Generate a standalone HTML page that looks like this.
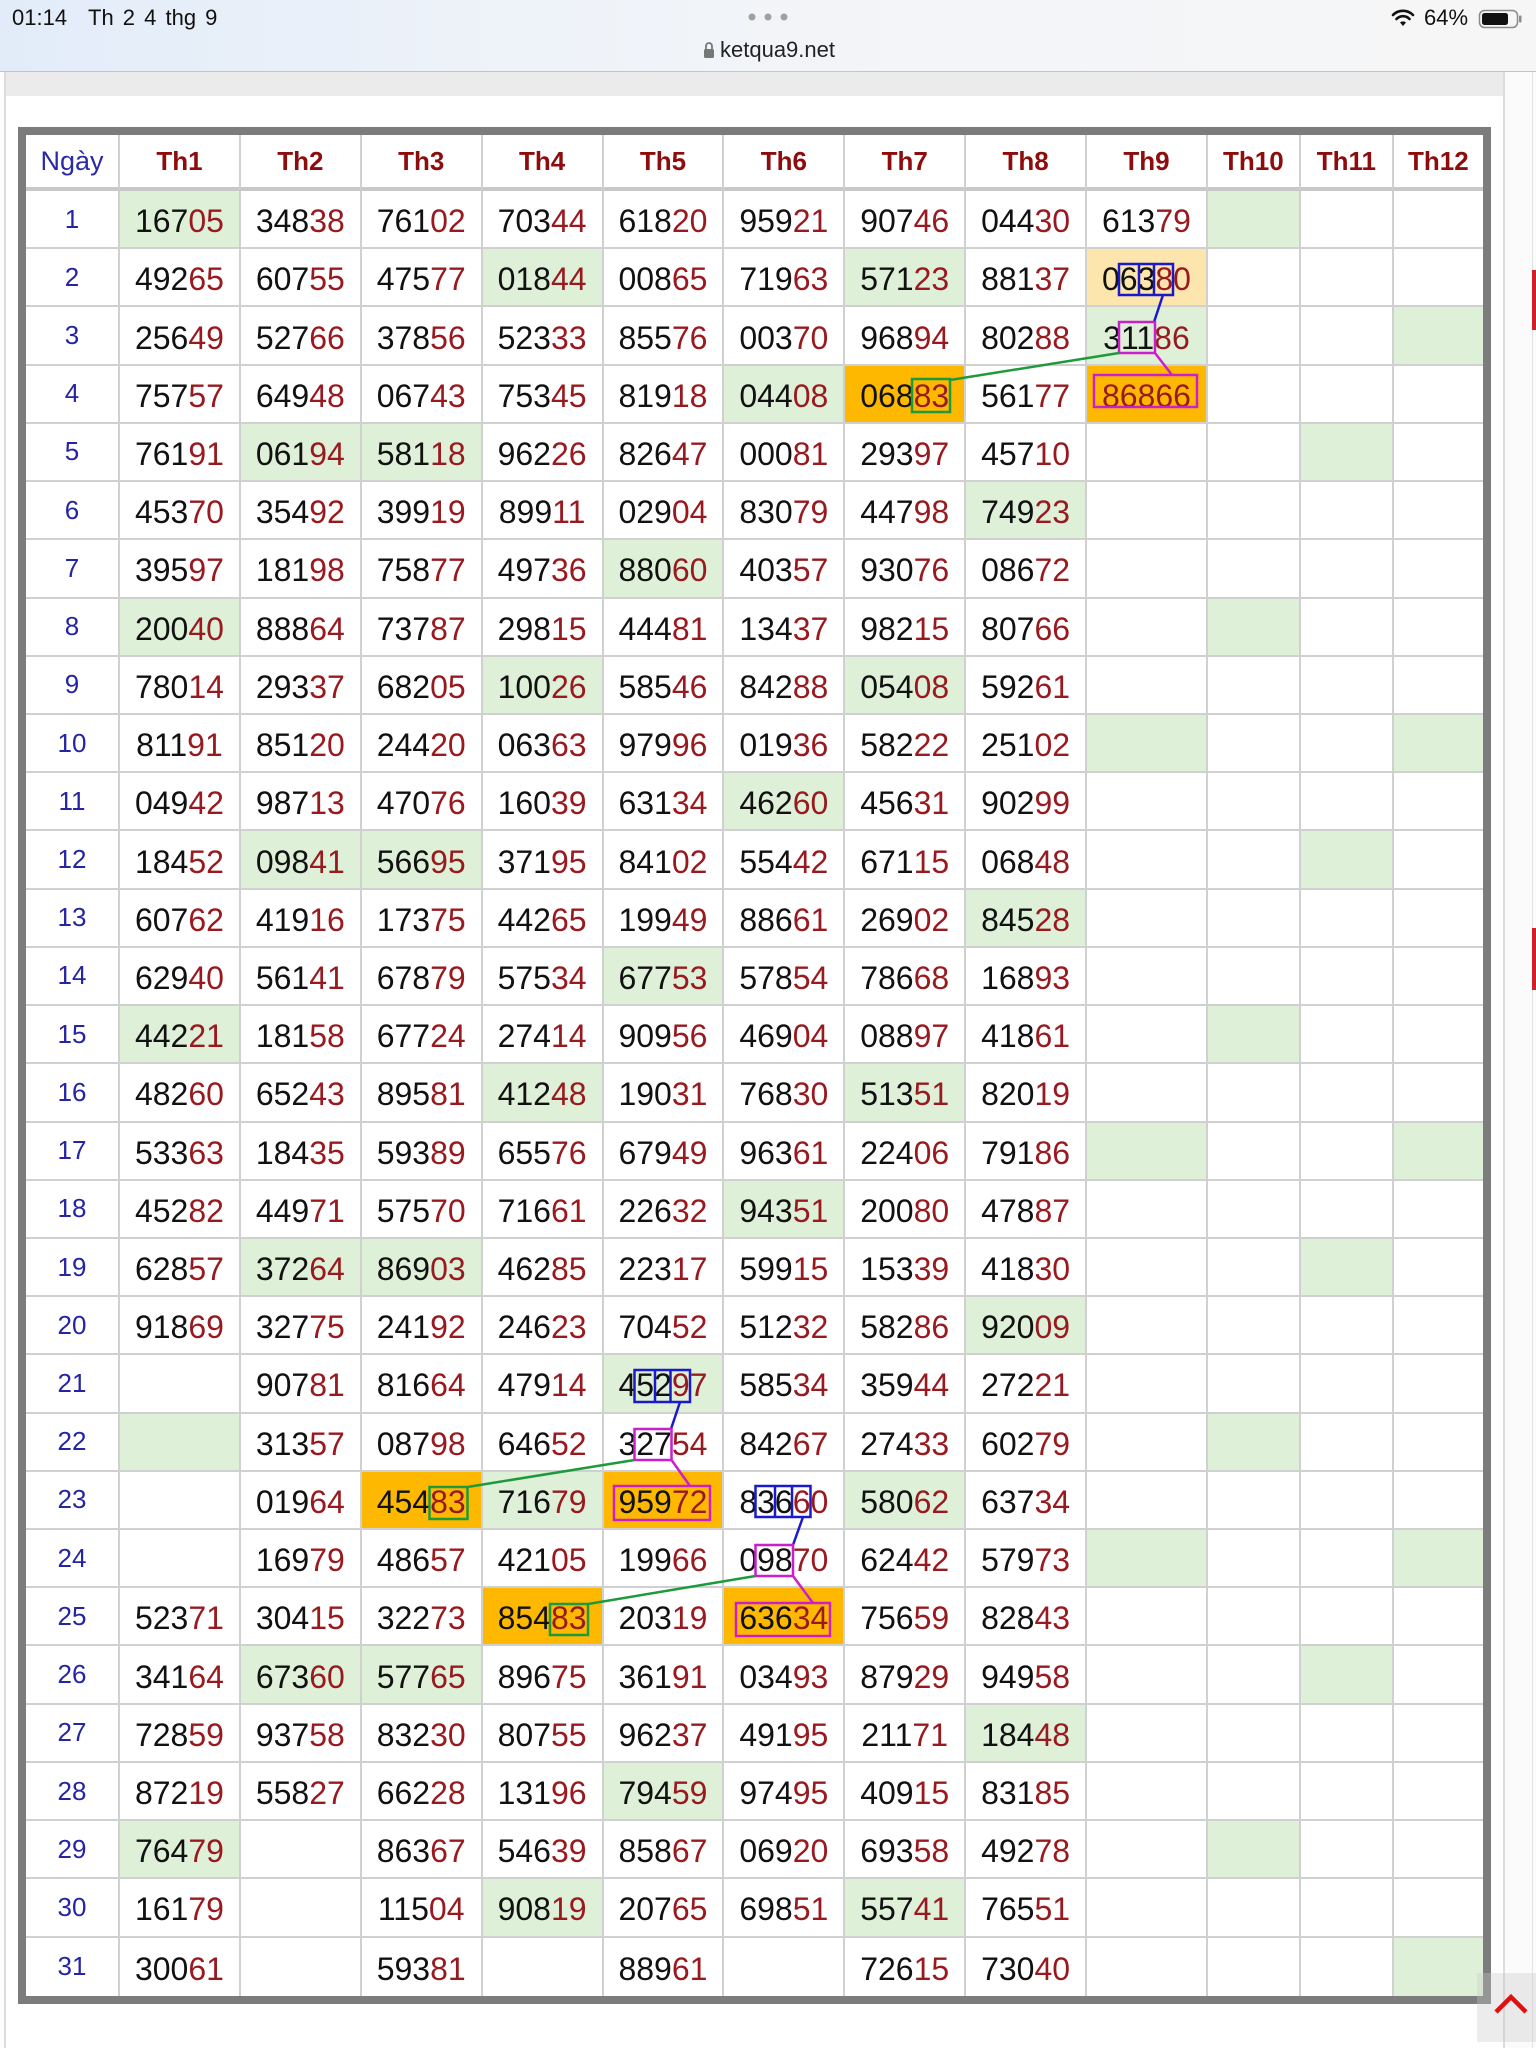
<!DOCTYPE html>
<html><head><meta charset="utf-8">
<style>
html,body{margin:0;padding:0}
body{width:1536px;height:2048px;position:relative;overflow:hidden;background:#fff;font-family:"Liberation Sans",Arial,sans-serif}
#sb{position:absolute;left:0;top:0;width:1536px;height:71px;background:linear-gradient(90deg,#e2ecf9 0%,#edf2f9 30%,#f4f5f8 60%,#f6f6f7 100%);border-bottom:1px solid #c4c4c4}
.st{position:absolute;font-size:22px;line-height:22px;color:#111;white-space:nowrap}
#band{position:absolute;left:5px;top:72px;width:1500px;height:24px;background:#ebebeb}
.vl{position:absolute;top:72px;height:1976px;width:2px;background:#dcdcdc}
#t{position:absolute;left:18px;top:127px;width:1457px;height:1861px;border:8px solid #7c7c7c;display:grid;grid-template-columns:92px repeat(9,120.889px) 93px 93px 91px;grid-template-rows:56px repeat(31,58.226px);background:#fff}
#t>i{font-style:normal;box-sizing:border-box;border-left:2px solid #d0d0d0;border-bottom:2px solid #d0d0d0;display:flex;align-items:center;justify-content:center;padding-top:5px;font-size:32px;color:#111;white-space:nowrap;overflow:visible}
#t>i:nth-child(13n+1){border-left:0;font-size:26px;color:#2424a4;padding-top:0}
#t>i:nth-last-child(-n+13){border-bottom:0}
#t>i.h{border-bottom:4px solid #c8c8c8;font-weight:bold;font-size:26px;color:#8e0c0c;padding-top:0}
#t>i.h:first-child{font-weight:normal;font-size:27px;color:#2a2aa6}
#t b{font-weight:normal;color:#981a1f}
#t .g{background:#dff0d8}
#t .o{background:#ffb800}
#t .y{background:#fde6ad}
</style></head><body>
<div id="sb"></div>
<div class="st" style="left:12px;top:7px">01:14</div>
<div class="st" style="left:88px;top:7px;word-spacing:3px">Th 2 4 thg 9</div>
<div class="st" style="left:720px;top:39px;color:#222">ketqua9.net</div>
<div class="st" style="left:1424px;top:7px">64%</div>
<svg style="position:absolute;left:0;top:0" width="1536" height="72">
<circle cx="752" cy="17" r="3.5" fill="#a0a0a0"/><circle cx="768" cy="17" r="3.5" fill="#a0a0a0"/><circle cx="784" cy="17" r="3.5" fill="#a0a0a0"/>
<rect x="704" y="49" width="10" height="9" rx="1.5" fill="#777"/>
<path d="M706 49v-3a3 3 0 0 1 6 0v3" fill="none" stroke="#777" stroke-width="1.8"/>
<g fill="none" stroke="#111" stroke-width="2.6" stroke-linecap="round">
<path d="M1393 15a14 14 0 0 1 20 0"/><path d="M1396.5 19a9 9 0 0 1 13 0"/>
</g>
<path d="M1400 22.5a4.5 4.5 0 0 1 6 0L1403 26z" fill="#111"/>
<rect x="1479.5" y="10.5" width="38" height="17" rx="5" fill="none" stroke="#8a8a8a" stroke-width="1.5"/>
<rect x="1482" y="13" width="26" height="12" rx="2.5" fill="#111"/>
<rect x="1519" y="15.5" width="2.5" height="7" rx="1" fill="#8a8a8a"/>
</svg>
<div id="band"></div>
<div class="vl" style="left:4px"></div>
<div class="vl" style="left:1503px"></div>
<div style="position:absolute;left:1505px;top:72px;width:31px;height:1976px;background:#fbfbfb"></div>
<div style="position:absolute;left:1532px;top:72px;width:1px;height:1976px;background:#e2e2e2"></div>
<div style="position:absolute;left:1532px;top:270px;width:4px;height:60px;background:#d0202a"></div>
<div style="position:absolute;left:1532px;top:928px;width:4px;height:62px;background:#d0202a"></div>

<div id="t">
<i class="h">Ngày</i><i class="h">Th1</i><i class="h">Th2</i><i class="h">Th3</i><i class="h">Th4</i><i class="h">Th5</i><i class="h">Th6</i><i class="h">Th7</i><i class="h">Th8</i><i class="h">Th9</i><i class="h">Th10</i><i class="h">Th11</i><i class="h">Th12</i>
<i>1</i><i class="g">167<b>05</b></i><i>348<b>38</b></i><i>761<b>02</b></i><i>703<b>44</b></i><i>618<b>20</b></i><i>959<b>21</b></i><i>907<b>46</b></i><i>044<b>30</b></i><i>613<b>79</b></i><i class="g"></i><i></i><i></i>
<i>2</i><i>492<b>65</b></i><i>607<b>55</b></i><i>475<b>77</b></i><i class="g">018<b>44</b></i><i>008<b>65</b></i><i>719<b>63</b></i><i class="g">571<b>23</b></i><i>881<b>37</b></i><i class="y">063<b>80</b></i><i></i><i></i><i></i>
<i>3</i><i>256<b>49</b></i><i>527<b>66</b></i><i>378<b>56</b></i><i>523<b>33</b></i><i>855<b>76</b></i><i>003<b>70</b></i><i>968<b>94</b></i><i>802<b>88</b></i><i class="g">311<b>86</b></i><i></i><i></i><i class="g"></i>
<i>4</i><i>757<b>57</b></i><i>649<b>48</b></i><i>067<b>43</b></i><i>753<b>45</b></i><i>819<b>18</b></i><i class="g">044<b>08</b></i><i class="o">068<b>83</b></i><i>561<b>77</b></i><i class="o"><b>86866</b></i><i></i><i></i><i></i>
<i>5</i><i>761<b>91</b></i><i class="g">061<b>94</b></i><i class="g">581<b>18</b></i><i>962<b>26</b></i><i>826<b>47</b></i><i>000<b>81</b></i><i>293<b>97</b></i><i>457<b>10</b></i><i></i><i></i><i class="g"></i><i></i>
<i>6</i><i>453<b>70</b></i><i>354<b>92</b></i><i>399<b>19</b></i><i>899<b>11</b></i><i>029<b>04</b></i><i>830<b>79</b></i><i>447<b>98</b></i><i class="g">749<b>23</b></i><i></i><i></i><i></i><i></i>
<i>7</i><i>395<b>97</b></i><i>181<b>98</b></i><i>758<b>77</b></i><i>497<b>36</b></i><i class="g">880<b>60</b></i><i>403<b>57</b></i><i>930<b>76</b></i><i>086<b>72</b></i><i></i><i></i><i></i><i></i>
<i>8</i><i class="g">200<b>40</b></i><i>888<b>64</b></i><i>737<b>87</b></i><i>298<b>15</b></i><i>444<b>81</b></i><i>134<b>37</b></i><i>982<b>15</b></i><i>807<b>66</b></i><i></i><i class="g"></i><i></i><i></i>
<i>9</i><i>780<b>14</b></i><i>293<b>37</b></i><i>682<b>05</b></i><i class="g">100<b>26</b></i><i>585<b>46</b></i><i>842<b>88</b></i><i class="g">054<b>08</b></i><i>592<b>61</b></i><i></i><i></i><i></i><i></i>
<i>10</i><i>811<b>91</b></i><i>851<b>20</b></i><i>244<b>20</b></i><i>063<b>63</b></i><i>979<b>96</b></i><i>019<b>36</b></i><i>582<b>22</b></i><i>251<b>02</b></i><i class="g"></i><i></i><i></i><i class="g"></i>
<i>11</i><i>049<b>42</b></i><i>987<b>13</b></i><i>470<b>76</b></i><i>160<b>39</b></i><i>631<b>34</b></i><i class="g">462<b>60</b></i><i>456<b>31</b></i><i>902<b>99</b></i><i></i><i></i><i></i><i></i>
<i>12</i><i>184<b>52</b></i><i class="g">098<b>41</b></i><i class="g">566<b>95</b></i><i>371<b>95</b></i><i>841<b>02</b></i><i>554<b>42</b></i><i>671<b>15</b></i><i>068<b>48</b></i><i></i><i></i><i class="g"></i><i></i>
<i>13</i><i>607<b>62</b></i><i>419<b>16</b></i><i>173<b>75</b></i><i>442<b>65</b></i><i>199<b>49</b></i><i>886<b>61</b></i><i>269<b>02</b></i><i class="g">845<b>28</b></i><i></i><i></i><i></i><i></i>
<i>14</i><i>629<b>40</b></i><i>561<b>41</b></i><i>678<b>79</b></i><i>575<b>34</b></i><i class="g">677<b>53</b></i><i>578<b>54</b></i><i>786<b>68</b></i><i>168<b>93</b></i><i></i><i></i><i></i><i></i>
<i>15</i><i class="g">442<b>21</b></i><i>181<b>58</b></i><i>677<b>24</b></i><i>274<b>14</b></i><i>909<b>56</b></i><i>469<b>04</b></i><i>088<b>97</b></i><i>418<b>61</b></i><i></i><i class="g"></i><i></i><i></i>
<i>16</i><i>482<b>60</b></i><i>652<b>43</b></i><i>895<b>81</b></i><i class="g">412<b>48</b></i><i>190<b>31</b></i><i>768<b>30</b></i><i class="g">513<b>51</b></i><i>820<b>19</b></i><i></i><i></i><i></i><i></i>
<i>17</i><i>533<b>63</b></i><i>184<b>35</b></i><i>593<b>89</b></i><i>655<b>76</b></i><i>679<b>49</b></i><i>963<b>61</b></i><i>224<b>06</b></i><i>791<b>86</b></i><i class="g"></i><i></i><i></i><i class="g"></i>
<i>18</i><i>452<b>82</b></i><i>449<b>71</b></i><i>575<b>70</b></i><i>716<b>61</b></i><i>226<b>32</b></i><i class="g">943<b>51</b></i><i>200<b>80</b></i><i>478<b>87</b></i><i></i><i></i><i></i><i></i>
<i>19</i><i>628<b>57</b></i><i class="g">372<b>64</b></i><i class="g">869<b>03</b></i><i>462<b>85</b></i><i>223<b>17</b></i><i>599<b>15</b></i><i>153<b>39</b></i><i>418<b>30</b></i><i></i><i></i><i class="g"></i><i></i>
<i>20</i><i>918<b>69</b></i><i>327<b>75</b></i><i>241<b>92</b></i><i>246<b>23</b></i><i>704<b>52</b></i><i>512<b>32</b></i><i>582<b>86</b></i><i class="g">920<b>09</b></i><i></i><i></i><i></i><i></i>
<i>21</i><i></i><i>907<b>81</b></i><i>816<b>64</b></i><i>479<b>14</b></i><i class="g">452<b>97</b></i><i>585<b>34</b></i><i>359<b>44</b></i><i>272<b>21</b></i><i></i><i></i><i></i><i></i>
<i>22</i><i class="g"></i><i>313<b>57</b></i><i>087<b>98</b></i><i>646<b>52</b></i><i>327<b>54</b></i><i>842<b>67</b></i><i>274<b>33</b></i><i>602<b>79</b></i><i></i><i class="g"></i><i></i><i></i>
<i>23</i><i></i><i>019<b>64</b></i><i class="o">454<b>83</b></i><i class="g">716<b>79</b></i><i class="o">959<b>72</b></i><i>836<b>60</b></i><i class="g">580<b>62</b></i><i>637<b>34</b></i><i></i><i></i><i></i><i></i>
<i>24</i><i></i><i>169<b>79</b></i><i>486<b>57</b></i><i>421<b>05</b></i><i>199<b>66</b></i><i>098<b>70</b></i><i>624<b>42</b></i><i>579<b>73</b></i><i class="g"></i><i></i><i></i><i class="g"></i>
<i>25</i><i>523<b>71</b></i><i>304<b>15</b></i><i>322<b>73</b></i><i class="o">854<b>83</b></i><i>203<b>19</b></i><i class="o">636<b>34</b></i><i>756<b>59</b></i><i>828<b>43</b></i><i></i><i></i><i></i><i></i>
<i>26</i><i>341<b>64</b></i><i class="g">673<b>60</b></i><i class="g">577<b>65</b></i><i>896<b>75</b></i><i>361<b>91</b></i><i>034<b>93</b></i><i>879<b>29</b></i><i>949<b>58</b></i><i></i><i></i><i class="g"></i><i></i>
<i>27</i><i>728<b>59</b></i><i>937<b>58</b></i><i>832<b>30</b></i><i>807<b>55</b></i><i>962<b>37</b></i><i>491<b>95</b></i><i>211<b>71</b></i><i class="g">184<b>48</b></i><i></i><i></i><i></i><i></i>
<i>28</i><i>872<b>19</b></i><i>558<b>27</b></i><i>662<b>28</b></i><i>131<b>96</b></i><i class="g">794<b>59</b></i><i>974<b>95</b></i><i>409<b>15</b></i><i>831<b>85</b></i><i></i><i></i><i></i><i></i>
<i>29</i><i class="g">764<b>79</b></i><i></i><i>863<b>67</b></i><i>546<b>39</b></i><i>858<b>67</b></i><i>069<b>20</b></i><i>693<b>58</b></i><i>492<b>78</b></i><i></i><i class="g"></i><i></i><i></i>
<i>30</i><i>161<b>79</b></i><i></i><i>115<b>04</b></i><i class="g">908<b>19</b></i><i>207<b>65</b></i><i>698<b>51</b></i><i class="g">557<b>41</b></i><i>765<b>51</b></i><i></i><i></i><i></i><i></i>
<i>31</i><i>300<b>61</b></i><i></i><i>593<b>81</b></i><i></i><i>889<b>61</b></i><i></i><i>726<b>15</b></i><i>730<b>40</b></i><i></i><i></i><i></i><i class="g"></i>
</div>

<svg style="position:absolute;left:0;top:0" width="1536" height="2048">
<g fill="none" stroke-width="2.5">
<path stroke="#1a1acc" d="M1119 264h54v31h-54z M1139 264v31 M1154 264v31 M1163 295L1154 322 M634.5 1370h55.5v32h-55.5z M655 1370v32 M670.5 1370v32 M680 1402L671 1429 M755.5 1486h55v31h-55z M775 1486v31 M792 1486v31 M803 1517L793 1545"/>
<path stroke="#cc1fcc" d="M1119 322h36v31h-36z M1094 375h103v32h-103z M1155 353L1172 375 M634.5 1429h37v31h-37z M614 1486h96v34h-96z M671.5 1460L690 1486 M755.5 1545h37.5v31h-37.5z M736 1603h94v33h-94z M793 1576L813 1603"/>
<path stroke="#1d9a3c" d="M912 379h38v33h-38z M1119 353L950 380 M429.5 1487h38v32h-38z M634.5 1460L467.5 1487 M550 1604h38v31h-38z M755.5 1576L588 1604"/>
</g>
<rect x="1477" y="1973" width="59" height="69" fill="rgba(200,200,200,0.35)"/>
<path d="M1496 2012L1511 1997L1526 2012" fill="none" stroke="#e01010" stroke-width="4.5"/>
</svg>
</body></html>
